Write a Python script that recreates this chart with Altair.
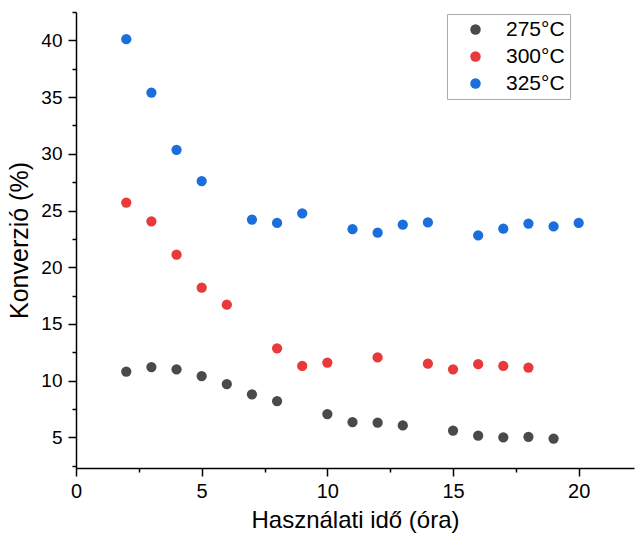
import altair as alt
import pandas as pd

# Data
hours_275 = [2, 3, 4, 5, 6, 7, 8, 10, 11, 12, 13, 15, 16, 17, 18, 19]
conv_275 = [10.8, 11.2, 11.0, 10.4, 9.7, 8.8, 8.2, 7.05, 6.35, 6.3, 6.05, 5.6, 5.15, 5.0, 5.05, 4.9]

hours_300 = [2, 3, 4, 5, 6, 8, 9, 10, 12, 14, 15, 16, 17, 18]
conv_300 = [25.7, 24.05, 21.1, 18.2, 16.7, 12.85, 11.3, 11.6, 12.05, 11.5, 11.0, 11.45, 11.3, 11.15]

hours_325 = [2, 3, 4, 5, 7, 8, 9, 11, 12, 13, 14, 16, 17, 18, 19, 20]
conv_325 = [40.1, 35.4, 30.35, 27.6, 24.2, 23.9, 24.75, 23.35, 23.05, 23.75, 23.95, 22.8, 23.4, 23.85, 23.6, 23.9]

series_names = ["275°C", "300°C", "325°C"]
series_colors = ["#4a4a4a", "#e8393b", "#1b6edc"]

x_major = [0, 5, 10, 15, 20]
x_minor = [2.5, 7.5, 12.5, 17.5]
y_major = [5, 10, 15, 20, 25, 30, 35, 40]
y_minor = [2.5, 7.5, 12.5, 17.5, 22.5, 27.5, 32.5, 37.5, 42.5]

rows = []
for name, hs, cs in zip(series_names, [hours_275, hours_300, hours_325], [conv_275, conv_300, conv_325]):
    for h, c in zip(hs, cs):
        rows.append({"ido": h, "konv": c, "T": name})
df = pd.DataFrame(rows)

FONT = "Liberation Sans"
xscale = alt.Scale(domain=[0, 22.2], nice=False, zero=False)
yscale = alt.Scale(domain=[2.3, 42.5], nice=False, zero=False)

main = alt.Chart(df).mark_circle(size=105, opacity=1).encode(
    x=alt.X("ido:Q", scale=xscale,
            axis=alt.Axis(orient="bottom", values=x_major, title="Használati idő (óra)",
                          grid=False, tickSize=8, tickWidth=1.5, tickColor="black",
                          domainColor="black", domainWidth=1.5, labelFlush=False,
                          labelFont=FONT, labelFontSize=20, labelColor="black", labelPadding=5,
                          titleFont=FONT, titleFontSize=24, titleFontWeight="normal",
                          titleColor="black", titlePadding=7)),
    y=alt.Y("konv:Q", scale=yscale,
            axis=alt.Axis(orient="left", values=y_major, title="Konverzió (%)",
                          grid=False, tickSize=8, tickWidth=1.5, tickColor="black",
                          domainColor="black", domainWidth=1.5, labelFlush=False,
                          labelFont=FONT, labelFontSize=19, labelColor="black", labelPadding=6,
                          titleFont=FONT, titleFontSize=25, titleFontWeight="normal",
                          titleColor="black", titlePadding=8)),
    color=alt.Color("T:N", scale=alt.Scale(domain=series_names, range=series_colors),
                    legend=alt.Legend(title="", orient="none", legendX=371, legendY=2,
                                      padding=5, symbolOffset=13, labelOffset=20,
                                      symbolType="circle", symbolSize=110, symbolStrokeWidth=0,
                                      labelFont=FONT, labelFontSize=21, labelColor="black",
                                      rowPadding=5, strokeColor="#aaaaaa", fillColor="white")),
)

minor = alt.Chart(df).mark_circle(opacity=0).encode(
    x=alt.X("ido:Q", scale=xscale,
            axis=alt.Axis(orient="bottom", values=x_minor, title="", labels=False, domain=False,
                          grid=False, tickSize=4, tickWidth=1.5, tickColor="black")),
    y=alt.Y("konv:Q", scale=yscale,
            axis=alt.Axis(orient="left", values=y_minor, title="", labels=False, domain=False,
                          grid=False, tickSize=4, tickWidth=1.5, tickColor="black")),
)

chart = alt.layer(main, minor).resolve_axis(x="independent", y="independent").properties(
    width=558, height=456,
    autosize=alt.AutoSizeParams(type="none"),
    padding={"left": 76, "top": 12, "right": 4, "bottom": 70},
    background="white",
).configure_view(stroke=None)

chart.save("out.html", embed_options={"renderer": "svg", "actions": False})
